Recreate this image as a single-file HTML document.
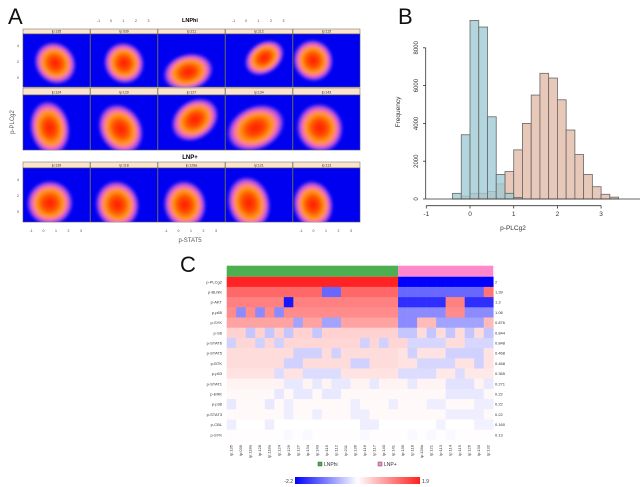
<!DOCTYPE html>
<html><head><meta charset="utf-8"><style>
body{margin:0;background:#fff;font-family:"Liberation Sans",sans-serif}
svg{display:block}
</style></head><body>
<svg id="fig" width="640" height="487" viewBox="0 0 640 487" xmlns="http://www.w3.org/2000/svg">
<defs>
<radialGradient id="blob">
<stop offset="0" stop-color="#ff1a00"/>
<stop offset="0.3" stop-color="#ff4a00"/>
<stop offset="0.55" stop-color="#ff9a10"/>
<stop offset="0.7" stop-color="#ff77aa"/>
<stop offset="0.85" stop-color="#bb55e0" stop-opacity="0.85"/>
<stop offset="1" stop-color="#5533ff" stop-opacity="0"/>
</radialGradient>
<linearGradient id="cbar" x1="0" x2="1">
<stop offset="0" stop-color="#0000ff"/><stop offset="0.5" stop-color="#ffffff"/><stop offset="1" stop-color="#ff2020"/>
</linearGradient>
<filter id="bl"><feGaussianBlur stdDeviation="1.2"/></filter>
</defs>
<g id="panelA"></g>
<g id="panelB"></g>
<g id="panelC"></g>
</svg>
<script>
const NS='http://www.w3.org/2000/svg';
function mk(p,t,a,txt){const e=document.createElementNS(NS,t);for(const k in a)e.setAttribute(k,a[k]);if(txt!==undefined)e.textContent=txt;p.appendChild(e);return e;}

/* ---------- Panel A ---------- */
const A=document.getElementById('panelA');
const aLabels=[["lp:135","lp:039","lp:211","lp:112","lp:115"],["lp:124","lp:129","lp:127","lp:134","lp:143"],["lp:139","lp:118","lp:128a","lp:121","lp:113"]];
const aBlobs=[[[0.48,0.55,0.3,0.42,-40],[0.5,0.55,0.3,0.4,-30],[0.45,0.72,0.38,0.35,-15],[0.58,0.45,0.32,0.3,-35],[0.3,0.5,0.3,0.4,-20]],
[[0.4,0.6,0.3,0.5,-10],[0.45,0.62,0.32,0.48,-30],[0.55,0.45,0.38,0.36,-35],[0.45,0.6,0.45,0.4,-25],[0.4,0.6,0.35,0.45,-20]],
[[0.4,0.65,0.35,0.42,-10],[0.4,0.68,0.33,0.45,-15],[0.4,0.68,0.32,0.45,-10],[0.35,0.65,0.32,0.5,-15],[0.3,0.68,0.3,0.45,-10]]];
const colX=[23,90.5,158,225.5,293],colW=67;
const rowY=[[29,34,87],[88,95,150],[162,168,222]];
mk(A,'text',{x:8,y:24,'font-size':22,fill:'#111',},'A');
mk(A,'text',{x:190,y:22,'font-size':5.5,'font-weight':'bold','text-anchor':'middle',},'LNPhi');
mk(A,'text',{x:190,y:159,'font-size':6,'font-weight':'bold','text-anchor':'middle',},'LNP+');
mk(A,'text',{x:190,y:242,'font-size':6,fill:'#555','text-anchor':'middle',},'p-STAT5');
mk(A,'text',{x:14,y:122,'font-size':6,fill:'#555','text-anchor':'middle',transform:'rotate(-90 14 122)',},'p-PLCg2');
for(let r=0;r<3;r++)for(let c=0;c<5;c++){
 const x=colX[c],[ys,yp,ye]=rowY[r];
 const g=mk(A,'g',{});
 
 
 mk(g,'rect',{x:x,y:ys,width:colW,height:yp-ys,fill:'#fbe3cc',stroke:'#666','stroke-width':0.5});
 mk(g,'text',{x:x+colW/2,y:yp-1.3,'font-size':3.5,'text-anchor':'middle',fill:'#333'},aLabels[r][c]);
 const cp='cp'+r+c;
 const clip=mk(document.querySelector('defs'),'clipPath',{id:cp});mk(clip,'rect',{x:x,y:yp,width:colW,height:ye-yp});
 mk(g,'rect',{x:x,y:yp,width:colW,height:ye-yp,fill:'#0000f0',stroke:'#555','stroke-width':0.6});
 const b=aBlobs[r][c],cx=x+b[0]*colW,cy=yp+b[1]*(ye-yp);
 const gg=mk(g,'g',{'clip-path':'url(#'+cp+')'});
 mk(gg,'ellipse',{cx:cx,cy:cy,rx:b[2]*colW*1.02,ry:b[3]*(ye-yp)*1.02,fill:'url(#blob)',transform:`rotate(${b[4]} ${cx} ${cy})`,filter:'url(#bl)'});
}
const aTicks=["-1","0","1","2","3"];
[[90.5,22],[225.5,22],[23,232],[158,232],[293,232]].forEach(([x0,y])=>{aTicks.forEach((t,i)=>mk(A,'text',{x:x0+8+i*12.5,y:y,'font-size':3.5,fill:'#444','text-anchor':'middle'},t));});
[[34],[168]].forEach(([y0])=>{["4","2","0"].forEach((t,i)=>mk(A,'text',{x:19,y:y0+13+i*16,'font-size':3.5,fill:'#444','text-anchor':'end'},t));});

/* ---------- Panel B ---------- */
const B=document.getElementById('panelB');
const binStarts=[-0.4,-0.2,0,0.2,0.4,0.6,0.8,1.0,1.2,1.4,1.6,1.8,2.0,2.2,2.4,2.6,2.8,3.0,3.2];
const lnpPlusCounts=[0,150,300,300,400,800,1450,2600,4000,5500,6650,6400,5250,3650,2350,1300,650,250,100];
const lnpHiCounts=[300,3400,9450,9100,4350,1300,300,80,0,0,0,0,0,0,0,0,0,0,0];
const bYTicks=[0,2000,4000,6000,8000];
const bXTicks=[-1,0,1,2,3];
const bx=v=>426.3+(v+1)*43.7, by=v=>199-v/2000*37.8;
mk(B,'text',{x:398,y:24,'font-size':22,fill:'#111',},'B');
function bars(counts,fill,nm){counts.forEach((v,i)=>{if(!v)return;const r=mk(B,'rect',{x:bx(binStarts[i]),y:by(v),width:bx(0.2)-bx(0),height:199-by(v),fill:fill,stroke:'#666','stroke-width':0.8});

});}
bars(lnpPlusCounts,'rgba(228,190,172,0.85)','lnp-plus');
bars(lnpHiCounts,'rgba(160,202,212,0.8)','lnp-hi');
mk(B,'line',{x1:426,x2:640,y1:199,y2:199,stroke:'#333','stroke-width':0.8});
mk(B,'line',{x1:bx(-1),x2:bx(3),y1:205.7,y2:205.7,stroke:'#333','stroke-width':0.8,});
bXTicks.forEach(t=>{mk(B,'line',{x1:bx(t),x2:bx(t),y1:205.7,y2:208.5,stroke:'#333','stroke-width':0.8});mk(B,'text',{x:bx(t),y:216,'font-size':6.5,'text-anchor':'middle',fill:'#333'},t);});
mk(B,'line',{x1:425.7,x2:425.7,y1:by(8000),y2:by(0),stroke:'#333','stroke-width':0.8,});
bYTicks.forEach(t=>{mk(B,'line',{x1:423,x2:425.7,y1:by(t),y2:by(t),stroke:'#333','stroke-width':0.8});mk(B,'text',{x:418,y:by(t),'font-size':6,'text-anchor':'middle',fill:'#333',transform:`rotate(-90 418 ${by(t)})`},t);});
mk(B,'text',{x:400,y:112,'font-size':6.5,'text-anchor':'middle',fill:'#333',transform:'rotate(-90 400 112)',},'Frequency');
mk(B,'text',{x:513,y:230,'font-size':6.5,'text-anchor':'middle',fill:'#333',},'p-PLCg2');

/* ---------- Panel C heatmap ---------- */
const C=document.getElementById('panelC');
const rowNames=["p-PLCg2","p-BLNK","p-AKT","p-p65","p-SYK","p-S6","p-STAT6","p-STAT5","p-BTK","p-p53","p-STAT1","p-ERK","p-p38","p-STAT3","p-CBL","p-SYK"];
const rowScores=["2","1.39","1.3","1.06","0.876","0.844","0.848","0.468","0.468","0.365","0.271","0.22","0.22","0.22","0.160","0.13"];
const colNames=["lp:135","lp:039","lp:118a","lp:128","lp:118a","lp:124","lp:129","lp:127","lp:134","lp:143","lp:115","lp:112","lp:211","lp:136","lp:116","lp:117","lp:140","lp:141","lp:139","lp:118","lp:128a","lp:121","lp:113","lp:114","lp:119","lp:126","lp:130","lp:132"];
const groups=[18,10];
function row(base1,base2,ex){const a=[];for(let i=0;i<28;i++)a.push(i<18?base1:base2);for(const k in ex)a[k]=ex[k];return a;}
const heat=[
row(1.9,-2.2,{}),
row(1.3,-1.3,{10:-1.3,11:-1.3,27:1.2}),
row(1.1,-1.8,{6:-2.0,23:1.1,24:1.1}),
row(1.0,-1.0,{1:-1.0,3:-1.0,5:-1.0,23:1.0,24:1.0}),
row(0.8,-0.8,{7:-0.8,10:-0.8,11:-0.8,18:-1.0,19:-1.0,20:0.6,21:0.6,27:0.6}),
row(0.4,-0.5,{2:-0.5,4:-0.5,6:-0.5,9:-0.5,20:0.3,22:0.3,24:0.3,26:0.3}),
row(0.35,-0.35,{0:-0.4,3:-0.4,5:-0.4,14:-0.4,16:-0.4,18:0.35,23:0.3,24:0.3}),
row(0.3,0.25,{7:-0.4,8:-0.4,9:-0.4,11:-0.4,19:-0.4,23:-0.4,24:-0.4,25:-0.4,26:-0.4}),
row(0.3,0.25,{6:-0.4,7:-0.4,13:-0.4,14:-0.4,20:-0.35,21:-0.35,22:-0.35,23:-0.35,26:-0.4}),
row(0.25,0.2,{5:-0.3,8:-0.3,9:-0.3,10:-0.3,11:-0.3,18:-0.3,19:-0.3,20:-0.3,21:-0.3,24:-0.3}),
row(0.1,0.1,{6:-0.2,7:-0.2,9:-0.2,11:-0.2,12:-0.2,15:-0.2,19:-0.2,23:-0.25,24:-0.25,25:-0.25,27:-0.2}),
row(0.06,0.06,{5:-0.2,7:-0.2,8:-0.2,10:-0.2,11:-0.2,23:-0.2,24:-0.2,25:-0.2,26:-0.2}),
row(0.05,0.05,{0:-0.2,4:-0.2,6:-0.15,13:-0.15,17:-0.15,21:-0.15,22:-0.15,26:-0.15,27:-0.15}),
row(0.05,0.05,{6:-0.15,9:-0.15,13:-0.15,14:-0.15,23:-0.15,24:-0.15,25:-0.15,26:-0.15}),
row(0.0,0.0,{0:-0.15,4:-0.15,14:-0.15,15:-0.15,22:-0.1,26:-0.12,27:-0.12}),
row(0.02,0.02,{6:-0.05,8:-0.05,14:-0.05,19:-0.05,21:-0.05,23:-0.05})
];
const cx0=226.7,cw=9.52,cy0=276.7,rh=10.2;
function col(v){if(v>=0){const t=Math.min(v/1.9,1);return `rgb(255,${Math.round(255-t*220)},${Math.round(255-t*220)})`;}const t=Math.min(-v/2.2,1);return `rgb(${Math.round(255-t*255)},${Math.round(255-t*255)},255)`;}
mk(C,'text',{x:180,y:272,'font-size':22,fill:'#111',},'C');
let gx=cx0;groups.forEach((n,i)=>{const r=mk(C,'rect',{x:gx,y:265.7,width:n*cw,height:11,fill:i?'#ff88cc':'#4caf50'});

gx+=n*cw;});
heat.forEach((rw,ri)=>{rw.forEach((v,ci)=>{const r=mk(C,'rect',{x:cx0+ci*cw,y:cy0+ri*rh,width:cw+0.3,height:rh+0.3,fill:col(v)});

});
 mk(C,'text',{x:222,y:cy0+ri*rh+rh/2+1.5,'font-size':4,'text-anchor':'end',fill:'#333'},rowNames[ri]);
 mk(C,'text',{x:495,y:cy0+ri*rh+rh/2+1.5,'font-size':4,fill:'#333'},rowScores[ri]);
});
colNames.forEach((n,ci)=>{const x=cx0+ci*cw+cw/2+1.2;mk(C,'text',{x:x,y:445,'font-size':4,'text-anchor':'end',fill:'#333',transform:`rotate(-90 ${x} 445)`},n);});
mk(C,'rect',{x:318,y:462,width:4,height:4,fill:'#4caf50',stroke:'#333','stroke-width':0.4,});
mk(C,'text',{x:324,y:466,'font-size':5,fill:'#333'},'LNPhi');
mk(C,'rect',{x:378,y:462,width:4,height:4,fill:'#ff88cc',stroke:'#333','stroke-width':0.4,});
mk(C,'text',{x:384,y:466,'font-size':5,fill:'#333'},'LNP+');
mk(C,'rect',{x:295,y:477,width:125,height:7,fill:'url(#cbar)',});
mk(C,'text',{x:293,y:483,'font-size':5,'text-anchor':'end',fill:'#333'},'-2.2');
mk(C,'text',{x:422,y:483,'font-size':5,fill:'#333'},'1.9');
</script>
</body></html>
